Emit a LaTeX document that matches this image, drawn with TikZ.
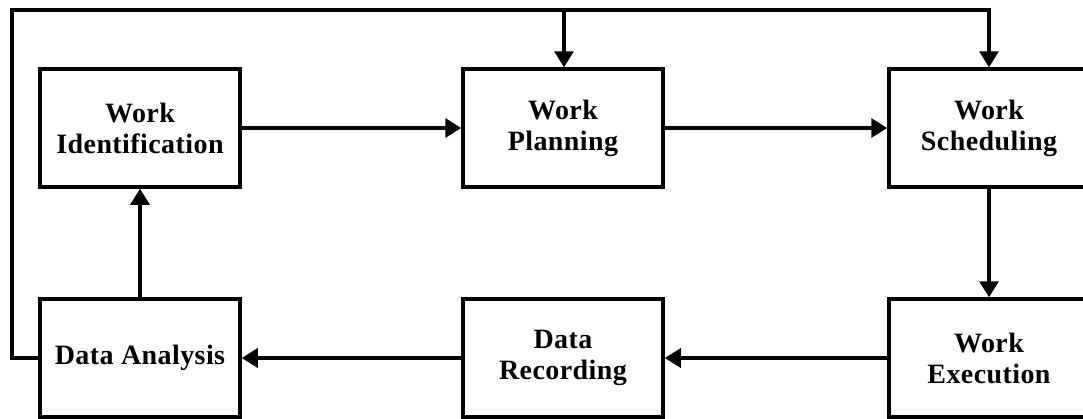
\documentclass[tikz,border=0pt]{standalone}
\usepackage{fontspec}
\setmainfont{Liberation Serif}
\newfontfamily\boxfont[LetterSpace=1.5]{Liberation Serif}
\usetikzlibrary{arrows.meta}

\begin{document}
\begin{tikzpicture}[x=1pt,y=-1pt,
  stage/.style={draw, line width=3.5pt, minimum width=200pt, minimum height=118pt,
    inner sep=0pt, align=center, font=\boxfont\bfseries\fontsize{28}{31}\selectfont},
  link/.style={line width=3.2pt},
  flow/.style={link, -{Triangle[length=16pt,width=19pt]}}]
  \useasboundingbox (0,0) rectangle (1083,418);
  \clip (0,0) rectangle (1083,418);

  % process stages
  \node[stage] (ident) at (140,128) {Work\\Identification};
  \node[stage] (plan)  at (563,128) {Work\\Planning};
  \node[stage] (sched) at (989,128) {Work\\Scheduling};
  \node[stage] (anal)  at (140,358) {Data Analysis};
  \node[stage] (rec)   at (563,358) {Data\\Recording};
  \node[stage] (exec)  at (989,358) {Work\\Execution};

  % main cycle
  \draw[flow] (ident) -- (plan);
  \draw[flow] (plan) -- (sched);
  \draw[flow] (sched) -- (exec);
  \draw[flow] (exec) -- (rec);
  \draw[flow] (rec) -- (anal);
  \draw[flow] (anal) -- (ident);

  % feedback loop from analysis back to planning and scheduling
  \coordinate (loopcorner) at (12,10);
  \coordinate (branch) at (564,10);
  \draw[flow] (anal.west) -| (loopcorner) -| (sched.north);
  \draw[flow] (branch) -- (branch |- plan.north);
\end{tikzpicture}
\end{document}
